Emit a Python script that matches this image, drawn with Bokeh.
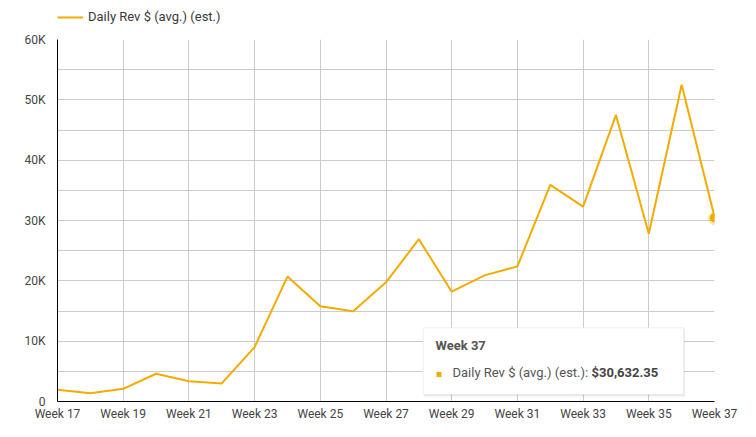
from bokeh.plotting import figure
from bokeh.layouts import column
from bokeh.models import (ColumnDataSource, FixedTicker, Legend, LegendItem,
                          BoxAnnotation, Label, Range1d)
from bokeh.embed import file_html
from bokeh.resources import INLINE

weeks = list(range(17, 38))
week_labels = ["Week %d" % w for w in weeks]
daily_rev = [1930, 1380, 2100, 4600, 3370, 3000, 9000, 20700, 15800, 14950,
             19750, 26900, 18200, 20900, 22400, 35900, 32300, 47500, 27800,
             52500, 30632.35]
series_name = "Daily Rev $ (avg.) (est.)"
y_ticks = [0, 10000, 20000, 30000, 40000, 50000, 60000]
y_tick_labels = ["0", "10K", "20K", "30K", "40K", "50K", "60K"]
y_minor = [5000, 15000, 25000, 35000, 45000, 55000]
x_ticks = weeks[::2]

LINE = "#f4ab00"
FONT = "Roboto"

W = 748
LH = 28          # legend strip height
H = 401          # main figure height

# ---- legend strip ----
lg = figure(width=W, height=LH, output_backend="svg", toolbar_location=None,
            x_range=Range1d(0, 1), y_range=Range1d(0, 1),
            min_border=0, min_border_left=0, min_border_right=0,
            min_border_top=0, min_border_bottom=0)
lg.xaxis.visible = False
lg.yaxis.visible = False
lg.grid.visible = False
lg.outline_line_color = None
# line kept outside the strip's ranges: only its legend sample shows
dummy = lg.line(x=[5, 6], y=[5, 6], line_color=LINE, line_width=2)
legend = Legend(items=[LegendItem(label=series_name, renderers=[dummy])],
                location=(0, 4), orientation="horizontal",
                glyph_width=26, glyph_height=12, label_height=12,
                label_standoff=5, padding=0, margin=0, spacing=0,
                border_line_color=None, background_fill_alpha=0,
                label_text_font=FONT, label_text_font_size="13px",
                label_text_color="#3a3a3a")
lg.add_layout(legend)

# ---- main chart ----
p = figure(width=W, height=H, output_backend="svg", toolbar_location=None,
           x_range=Range1d(weeks[0], weeks[-1]), y_range=Range1d(0, 60000),
           min_border_left=57, min_border_right=W - 714,
           min_border_top=11, min_border_bottom=28)
p.outline_line_color = None
p.background_fill_color = "white"
p.border_fill_color = "white"

src = ColumnDataSource(dict(x=weeks, y=daily_rev))
p.line("x", "y", source=src, line_color=LINE, line_width=2)

# highlighted last point (labels, so the frame edge does not cut it)
p.add_layout(Label(x=weeks[-1], y=daily_rev[-1], text="\u25cf",
                   text_font="DejaVu Sans", text_font_size="17px",
                   text_align="center", text_baseline="middle",
                   text_color=LINE, text_alpha=0.3))
p.add_layout(Label(x=weeks[-1], y=daily_rev[-1], text="\u25cf",
                   text_font="DejaVu Sans", text_font_size="12px",
                   text_align="center", text_baseline="middle",
                   text_color=LINE))

# axes
p.xaxis.ticker = FixedTicker(ticks=x_ticks)
p.xaxis.major_label_overrides = {w: "Week %d" % w for w in x_ticks}
p.yaxis.ticker = FixedTicker(ticks=y_ticks, minor_ticks=y_minor)
p.yaxis.major_label_overrides = {t: l for t, l in zip(y_ticks, y_tick_labels)}
for ax in (p.xaxis, p.yaxis):
    ax.axis_line_color = "#000000"
    ax.axis_line_width = 1
    ax.major_tick_line_color = None
    ax.minor_tick_line_color = None
    ax.major_tick_out = 0
    ax.major_tick_in = 0
    ax.minor_tick_out = 0
    ax.major_label_text_font = FONT
    ax.major_label_text_font_size = "12px"
    ax.major_label_text_color = "#444444"
p.yaxis.major_label_standoff = 12
p.xaxis.major_label_standoff = 5

p.xgrid.grid_line_color = "#cccccc"
p.ygrid.grid_line_color = "#cccccc"
p.ygrid.minor_grid_line_color = "#cccccc"

# static tooltip
bl, br, bt, bb = 365.7, 626.3, 73.7, 7
shadow = BoxAnnotation(left=bl + 1, right=br + 1, top=bt - 1, bottom=bb - 2,
                       left_units="screen", right_units="screen",
                       top_units="screen", bottom_units="screen",
                       fill_color="#000000", fill_alpha=0.08, line_color=None)
box = BoxAnnotation(left=bl, right=br, top=bt, bottom=bb,
                    left_units="screen", right_units="screen",
                    top_units="screen", bottom_units="screen",
                    fill_color="white", fill_alpha=1.0,
                    line_color="#cccccc", line_width=1)
p.add_layout(shadow)
p.add_layout(box)
sq = BoxAnnotation(left=379, right=384, top=29.5, bottom=24.5,
                   left_units="screen", right_units="screen",
                   top_units="screen", bottom_units="screen",
                   fill_color=LINE, fill_alpha=1.0, line_color=None)
p.add_layout(sq)
p.add_layout(Label(x=378, y=49, x_units="screen", y_units="screen",
                   text=week_labels[-1], text_font=FONT,
                   text_font_size="13px", text_font_style="bold",
                   text_color="#555555"))
p.add_layout(Label(x=395, y=22, x_units="screen", y_units="screen",
                   text=series_name + ":", text_font=FONT,
                   text_font_size="13px", text_color="#555555"))
p.add_layout(Label(x=534, y=22, x_units="screen", y_units="screen",
                   text="${:,.2f}".format(daily_rev[-1]), text_font=FONT,
                   text_font_size="13px", text_font_style="bold",
                   text_color="#444444"))

page = column(lg, p, spacing=0)
open("out.html", "w").write(file_html(page, INLINE))
